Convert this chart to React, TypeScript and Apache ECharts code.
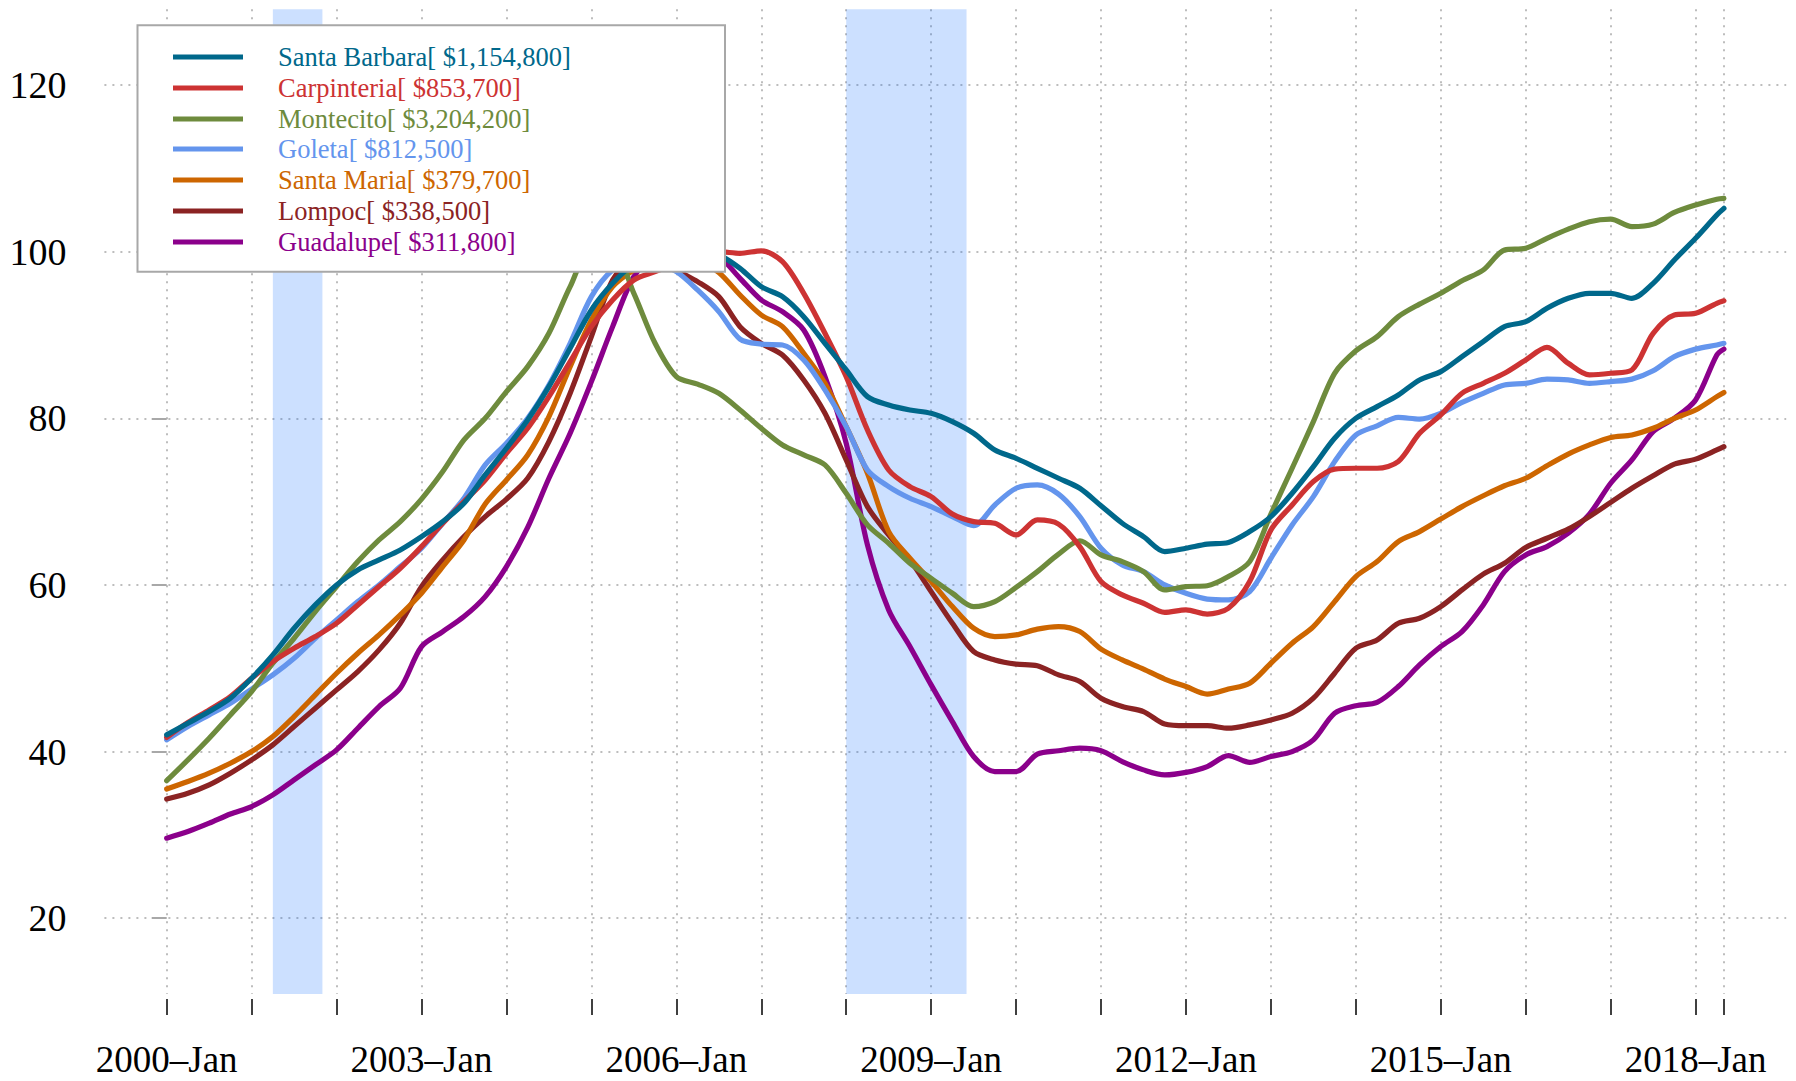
import React, { useEffect, useRef } from "react";
import * as echarts from "echarts";

// Month index counted from 2000-Jan (0) to 2018-May (220), sampled quarterly
const months = [
  0, 3, 6, 9, 12, 15, 18, 21, 24, 27, 30, 33, 36, 39, 42, 45, 48, 51, 54, 57,
  60, 63, 66, 69, 72, 75, 78, 81, 84, 87, 90, 93, 96, 99, 102, 105, 108, 111, 114, 117,
  120, 123, 126, 129, 132, 135, 138, 141, 144, 147, 150, 153, 156, 159, 162, 165, 168, 171, 174, 177,
  180, 183, 186, 189, 192, 195, 198, 201, 204, 207, 210, 213, 216, 219, 220,
];

const seriesNames = ["Santa Barbara", "Carpinteria", "Montecito", "Goleta", "Santa Maria", "Lompoc", "Guadalupe"];
const prices = ["$1,154,800", "$853,700", "$3,204,200", "$812,500", "$379,700", "$338,500", "$311,800"];
const colors = ["#00688B", "#CD3333", "#6E8B3D", "#6495ED", "#CD6600", "#8B2323", "#8B008B"];

const santaBarbara = [
  42.0, 43.4, 44.8, 46.4, 48.8, 51.6, 54.8, 57.6, 60.0, 61.8,
  63.0, 64.2, 65.8, 67.6, 69.8, 73.2, 76.4, 79.8, 83.8, 88.4,
  93.0, 96.2, 98.5, 99.5, 100.0, 100.0, 99.6, 98.0, 95.8, 94.6,
  92.2, 89.0, 85.8, 82.6, 81.6, 81.0, 80.6, 79.6, 78.2, 76.2,
  75.2, 74.0, 72.8, 71.6, 69.5, 67.4, 65.8, 64.0, 64.4, 64.9,
  65.1, 66.4, 68.2, 71.0, 74.2, 77.6, 80.0, 81.4, 82.8, 84.6,
  85.6, 87.4, 89.2, 91.0, 91.6, 93.2, 94.4, 95.0, 95.0, 94.4,
  96.2, 99.0, 101.6, 104.4, 105.2,
];
const carpinteria = [
  41.7, 43.5, 45.0, 46.6, 48.8, 50.8, 52.4, 53.8, 55.4, 57.6,
  59.8, 62.0, 64.6, 67.4, 70.0, 72.6, 75.8, 78.8, 82.6, 86.8,
  91.0, 94.2, 96.6, 97.6, 98.6, 99.4, 100.0, 99.8, 100.1, 98.8,
  95.0, 90.2, 85.0, 78.6, 73.8, 71.8, 70.6, 68.5, 67.6, 67.4,
  66.0, 67.8, 67.3, 64.6, 60.4, 58.8, 57.8, 56.7, 57.0, 56.5,
  57.2, 60.4, 66.6, 69.6, 72.4, 73.9, 74.0, 74.0, 74.8, 78.2,
  80.4, 83.0, 84.2, 85.4, 87.0, 88.5, 86.6, 85.2, 85.4, 85.8,
  90.2, 92.4, 92.6, 93.8, 94.1,
];
const montecito = [
  36.5, 39.0, 41.6, 44.4, 47.2, 50.6, 53.6, 56.8, 59.8, 62.8,
  65.4, 67.6, 70.3, 73.6, 77.4, 80.0, 83.2, 86.2, 90.2, 95.8,
  100.3, 100.2, 95.0, 89.0, 85.0, 84.1, 83.0, 81.0, 78.8, 76.8,
  75.6, 74.4, 71.0, 67.2, 65.0, 62.6, 60.8, 59.0, 57.4, 58.0,
  59.7, 61.6, 63.7, 65.3, 63.6, 62.8, 61.6, 59.4, 59.8, 59.9,
  61.0, 62.8, 68.5, 74.0, 79.6, 85.4, 88.1, 89.8, 92.2, 93.7,
  95.0, 96.5, 97.8, 100.2, 100.4, 101.6, 102.7, 103.6, 103.9, 103.0,
  103.3, 104.7, 105.6, 106.3, 106.4,
];
const goleta = [
  41.4, 43.0, 44.4, 45.8, 47.5, 49.2, 51.2, 53.6, 55.8, 58.0,
  60.0, 62.2, 64.4, 67.4, 70.4, 74.4, 77.0, 80.0, 84.0, 89.0,
  94.6, 97.8, 98.8, 98.6, 97.6, 95.4, 92.8, 89.5, 88.9, 88.8,
  87.0, 83.4, 79.0, 73.8, 71.8, 70.4, 69.4, 68.2, 67.1, 69.6,
  71.6, 72.0, 70.9, 68.2, 64.4, 62.4, 61.6, 60.0, 59.0, 58.3,
  58.2, 59.2, 63.2, 67.2, 70.6, 74.8, 78.0, 79.1, 80.1, 79.9,
  80.6, 81.9, 83.0, 84.0, 84.2, 84.7, 84.6, 84.2, 84.4, 84.7,
  85.7, 87.4, 88.3, 88.8, 89.0,
];
const santaMaria = [
  35.5, 36.4, 37.4, 38.6, 40.0, 41.8, 44.2, 46.8, 49.4, 51.8,
  54.0, 56.4, 59.0, 62.2, 65.4, 69.7, 72.6, 75.6, 80.2, 86.2,
  91.8, 95.8, 97.8, 99.0, 99.5, 99.0, 97.5, 94.8, 92.4, 91.0,
  87.8, 84.2, 79.0, 73.4, 66.4, 63.2, 60.4, 57.4, 54.8, 53.8,
  54.0, 54.7, 55.0, 54.4, 52.3, 51.0, 49.9, 48.7, 47.8, 46.9,
  47.5, 48.2, 50.6, 53.0, 55.0, 58.0, 61.0, 62.8, 65.2, 66.4,
  67.9, 69.4, 70.7, 71.9, 72.8, 74.3, 75.7, 76.8, 77.7, 78.0,
  78.8, 80.0, 81.0, 82.6, 83.1,
];
const lompoc = [
  34.3, 35.0, 36.0, 37.4, 39.0, 40.8, 43.0, 45.2, 47.4, 49.6,
  52.2, 55.4, 59.8, 63.0, 65.8, 68.2, 70.3, 72.8, 77.2, 83.0,
  89.8, 96.6, 99.2, 99.5, 97.8, 96.4, 94.6, 91.0, 89.0, 87.6,
  84.6, 80.6, 75.0, 69.4, 66.0, 63.0, 59.2, 55.4, 52.0, 51.0,
  50.5, 50.3, 49.2, 48.4, 46.4, 45.4, 44.8, 43.3, 43.1, 43.1,
  42.8, 43.2, 43.8, 44.6, 46.4, 49.4, 52.4, 53.4, 55.4, 56.0,
  57.4, 59.4, 61.3, 62.6, 64.5, 65.6, 66.7, 68.2, 69.9, 71.6,
  73.1, 74.5, 75.1, 76.2, 76.6,
];
const guadalupe = [
  29.6, 30.4, 31.4, 32.5, 33.4, 34.8, 36.6, 38.4, 40.2, 42.8,
  45.4, 47.6, 52.6, 54.4, 56.2, 58.6, 62.2, 66.9, 72.8, 78.2,
  84.4, 91.0, 97.0, 99.5, 100.2, 100.0, 99.4, 96.8, 94.2, 92.8,
  90.6, 85.0, 77.0, 64.8, 57.0, 52.6, 48.0, 43.6, 39.4, 37.6,
  37.6, 39.7, 40.1, 40.4, 40.1, 38.8, 37.8, 37.2, 37.5, 38.2,
  39.5, 38.7, 39.4, 40.0, 41.4, 44.6, 45.5, 45.9, 47.8, 50.4,
  52.6, 54.4, 57.6, 61.6, 63.6, 64.6, 66.2, 68.5, 72.2, 75.0,
  78.4, 80.0, 82.2, 87.6, 88.3,
];

const xTickMonths = [0, 12, 24, 36, 48, 60, 72, 84, 96, 108, 120, 132, 144, 156, 168, 180, 192, 204, 216, 220];
const xLabelMonths = [0, 36, 72, 108, 144, 180, 216];
const xLabels = ["2000–Jan", "2003–Jan", "2006–Jan", "2009–Jan", "2012–Jan", "2015–Jan", "2018–Jan"];
const yTicks = [20, 40, 60, 80, 100, 120];
const recessionStart = [15, 96];
const recessionEnd = [22, 113];

export default function App() {
  const ref = useRef<HTMLDivElement>(null);

  useEffect(() => {
    if (!ref.current) return;
    const chart = echarts.init(ref.current, null, { renderer: "svg" });
    const serif = "'Liberation Serif', 'Times New Roman', Times, serif";
    const values = [santaBarbara, carpinteria, montecito, goleta, santaMaria, lompoc, guadalupe];

    const lineSeries = values.map((vals, i) => ({
      type: "line",
      name: seriesNames[i],
      data: months.map((m, j) => [m, vals[j]]),
      symbol: "none",
      showSymbol: false,
      smooth: 0.3,
      silent: true,
      z: 10 - i,
      lineStyle: { color: colors[i], width: 5.2, cap: "round", join: "round" },
      itemStyle: { color: colors[i] },
    }));

    const bandSeries = {
      type: "line",
      name: "recessions",
      data: [],
      silent: true,
      z: 1,
      markArea: {
        silent: true,
        z: 1,
        itemStyle: { color: "rgba(0, 102, 255, 0.2)", borderWidth: 0 },
        data: recessionStart.map((s, i) => [{ xAxis: s }, { xAxis: recessionEnd[i] }]),
      },
    };

    const legendX = 137.5;
    const legendY = 25.2;
    const rowTop = 57;
    const rowStep = 30.75;
    const legendGraphics: any[] = [
      {
        type: "rect",
        z: 100,
        shape: { x: legendX, y: legendY, width: 587.5, height: 246.5 },
        style: { fill: "#ffffff", stroke: "#a8a8a8", lineWidth: 2 },
      },
    ];
    seriesNames.forEach((n, i) => {
      const y = Math.round(rowTop + i * rowStep);
      legendGraphics.push({
        type: "line",
        z: 101,
        shape: { x1: 173, y1: y, x2: 243, y2: y },
        style: { stroke: colors[i], lineWidth: 5 },
      });
      legendGraphics.push({
        type: "text",
        z: 101,
        x: 278,
        y,
        style: {
          text: `${n}[ ${prices[i]}]`,
          fill: colors[i],
          fontSize: 26.5,
          fontFamily: serif,
          verticalAlign: "middle",
          align: "left",
        },
      });
    });

    const gridLine = { show: true, lineStyle: { color: "#bdbdbd", width: 2, type: [2, 6] } };

    chart.setOption({
      animation: false,
      backgroundColor: "#ffffff",
      textStyle: { fontFamily: serif },
      grid: { left: 104.4, right: 9.8, top: 9.2, bottom: 87, containLabel: false, outerBoundsMode: "none" },
      xAxis: {
        type: "value",
        min: -8.8,
        max: 228.8,
        offset: 5,
        axisLine: { show: false },
        axisTick: { show: true, length: 16, customValues: xTickMonths, lineStyle: { color: "#000000", width: 1.5 } },
        axisLabel: {
          customValues: xLabelMonths,
          formatter: (v: number) => {
            const k = xLabelMonths.indexOf(Math.round(v));
            return k >= 0 ? xLabels[k] : "";
          },
          fontSize: 37,
          lineHeight: 37,
          fontFamily: serif,
          color: "#000000",
          margin: 42,
        },
        splitLine: gridLine,
      },
      yAxis: {
        type: "value",
        min: 10.9,
        max: 129.1,
        offset: 3.4,
        axisLine: { show: false },
        axisTick: { show: true, length: 15, customValues: yTicks, lineStyle: { color: "#a8a8a8", width: 2 } },
        axisLabel: {
          customValues: yTicks,
          fontSize: 38,
          fontFamily: serif,
          color: "#000000",
          margin: 34.6,
        },
        splitLine: gridLine,
      },
      series: [bandSeries, ...lineSeries],
      graphic: legendGraphics,
    });

    return () => {
      chart.dispose();
    };
  }, []);

  return (
    <div
      ref={ref}
      style={{ position: "fixed", left: 0, top: 0, width: 1796, height: 1081, background: "#ffffff" }}
    />
  );
}
